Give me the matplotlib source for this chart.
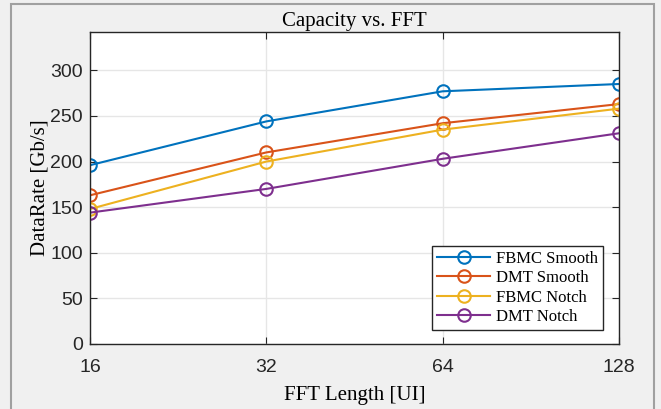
import matplotlib.pyplot as plt
from matplotlib.patches import Rectangle

# FFT lengths and data rates
fft_len = [16, 32, 64, 128]
fbmc_smooth = [196, 244, 277, 285]
dmt_smooth = [163, 210, 242, 263]
fbmc_notch = [148, 200, 235, 258]
dmt_notch = [144, 170, 203, 231]

series = [
    ('FBMC Smooth', fbmc_smooth, '#0072BD'),
    ('DMT Smooth', dmt_smooth, '#D95319'),
    ('FBMC Notch', fbmc_notch, '#EDB120'),
    ('DMT Notch', dmt_notch, '#7E2F8E'),
]

serif = 'Liberation Serif'
sans = 'Liberation Sans'

fig = plt.figure(figsize=(6.61, 4.09), dpi=100, facecolor='#F0F0F0')
# grey frame around the figure
fig.patches.append(Rectangle((11 / 661, -0.05), 643 / 661, 1.05 - 4 / 409,
                             transform=fig.transFigure, fill=False,
                             edgecolor='#A0A0A0', linewidth=1.5))

ax = fig.add_axes([90 / 661, 1 - 344 / 409, 529 / 661, 312 / 409])
ax.set_facecolor('white')

for name, vals, col in series:
    ax.plot(fft_len, vals, '-o', color=col, linewidth=1.5, markersize=9,
            markerfacecolor='none', markeredgewidth=1.5, label=name)

ax.set_xscale('log', base=2)
ax.set_xlim(16, 128)
ax.set_xticks(fft_len)
ax.set_xticklabels([str(v) for v in fft_len])
ax.minorticks_off()
ax.set_ylim(0, 342)
ax.set_yticks(range(0, 301, 50))

ax.grid(True, color='#E6E6E6', linewidth=1)
ax.set_axisbelow(True)
ax.tick_params(direction='in', top=True, right=True, length=5,
               colors='#262626', labelsize=14)
ax.tick_params(axis='x', pad=11)
ax.tick_params(axis='y', pad=5)
for lbl in ax.get_xticklabels() + ax.get_yticklabels():
    lbl.set_fontfamily(sans)
for sp in ax.spines.values():
    sp.set_color('#262626')
    sp.set_linewidth(1)

ax.set_title('Capacity vs. FFT', fontfamily=serif, fontsize=15, pad=4)
ax.set_xlabel('FFT Length [UI]', fontfamily=serif, fontsize=15, labelpad=7)
ax.set_ylabel('DataRate [Gb/s]', fontfamily=serif, fontsize=15, labelpad=1)

leg = ax.legend(loc='lower right', bbox_to_anchor=(0.97, 0.045),
                prop={'family': serif, 'size': 12}, fancybox=False,
                framealpha=1, edgecolor='#262626', borderpad=0.3,
                labelspacing=0.2, handlelength=3.2, handletextpad=0.35,
                borderaxespad=0)
leg.get_frame().set_linewidth(1)

plt.savefig('out.png', dpi=100, facecolor=fig.get_facecolor())
